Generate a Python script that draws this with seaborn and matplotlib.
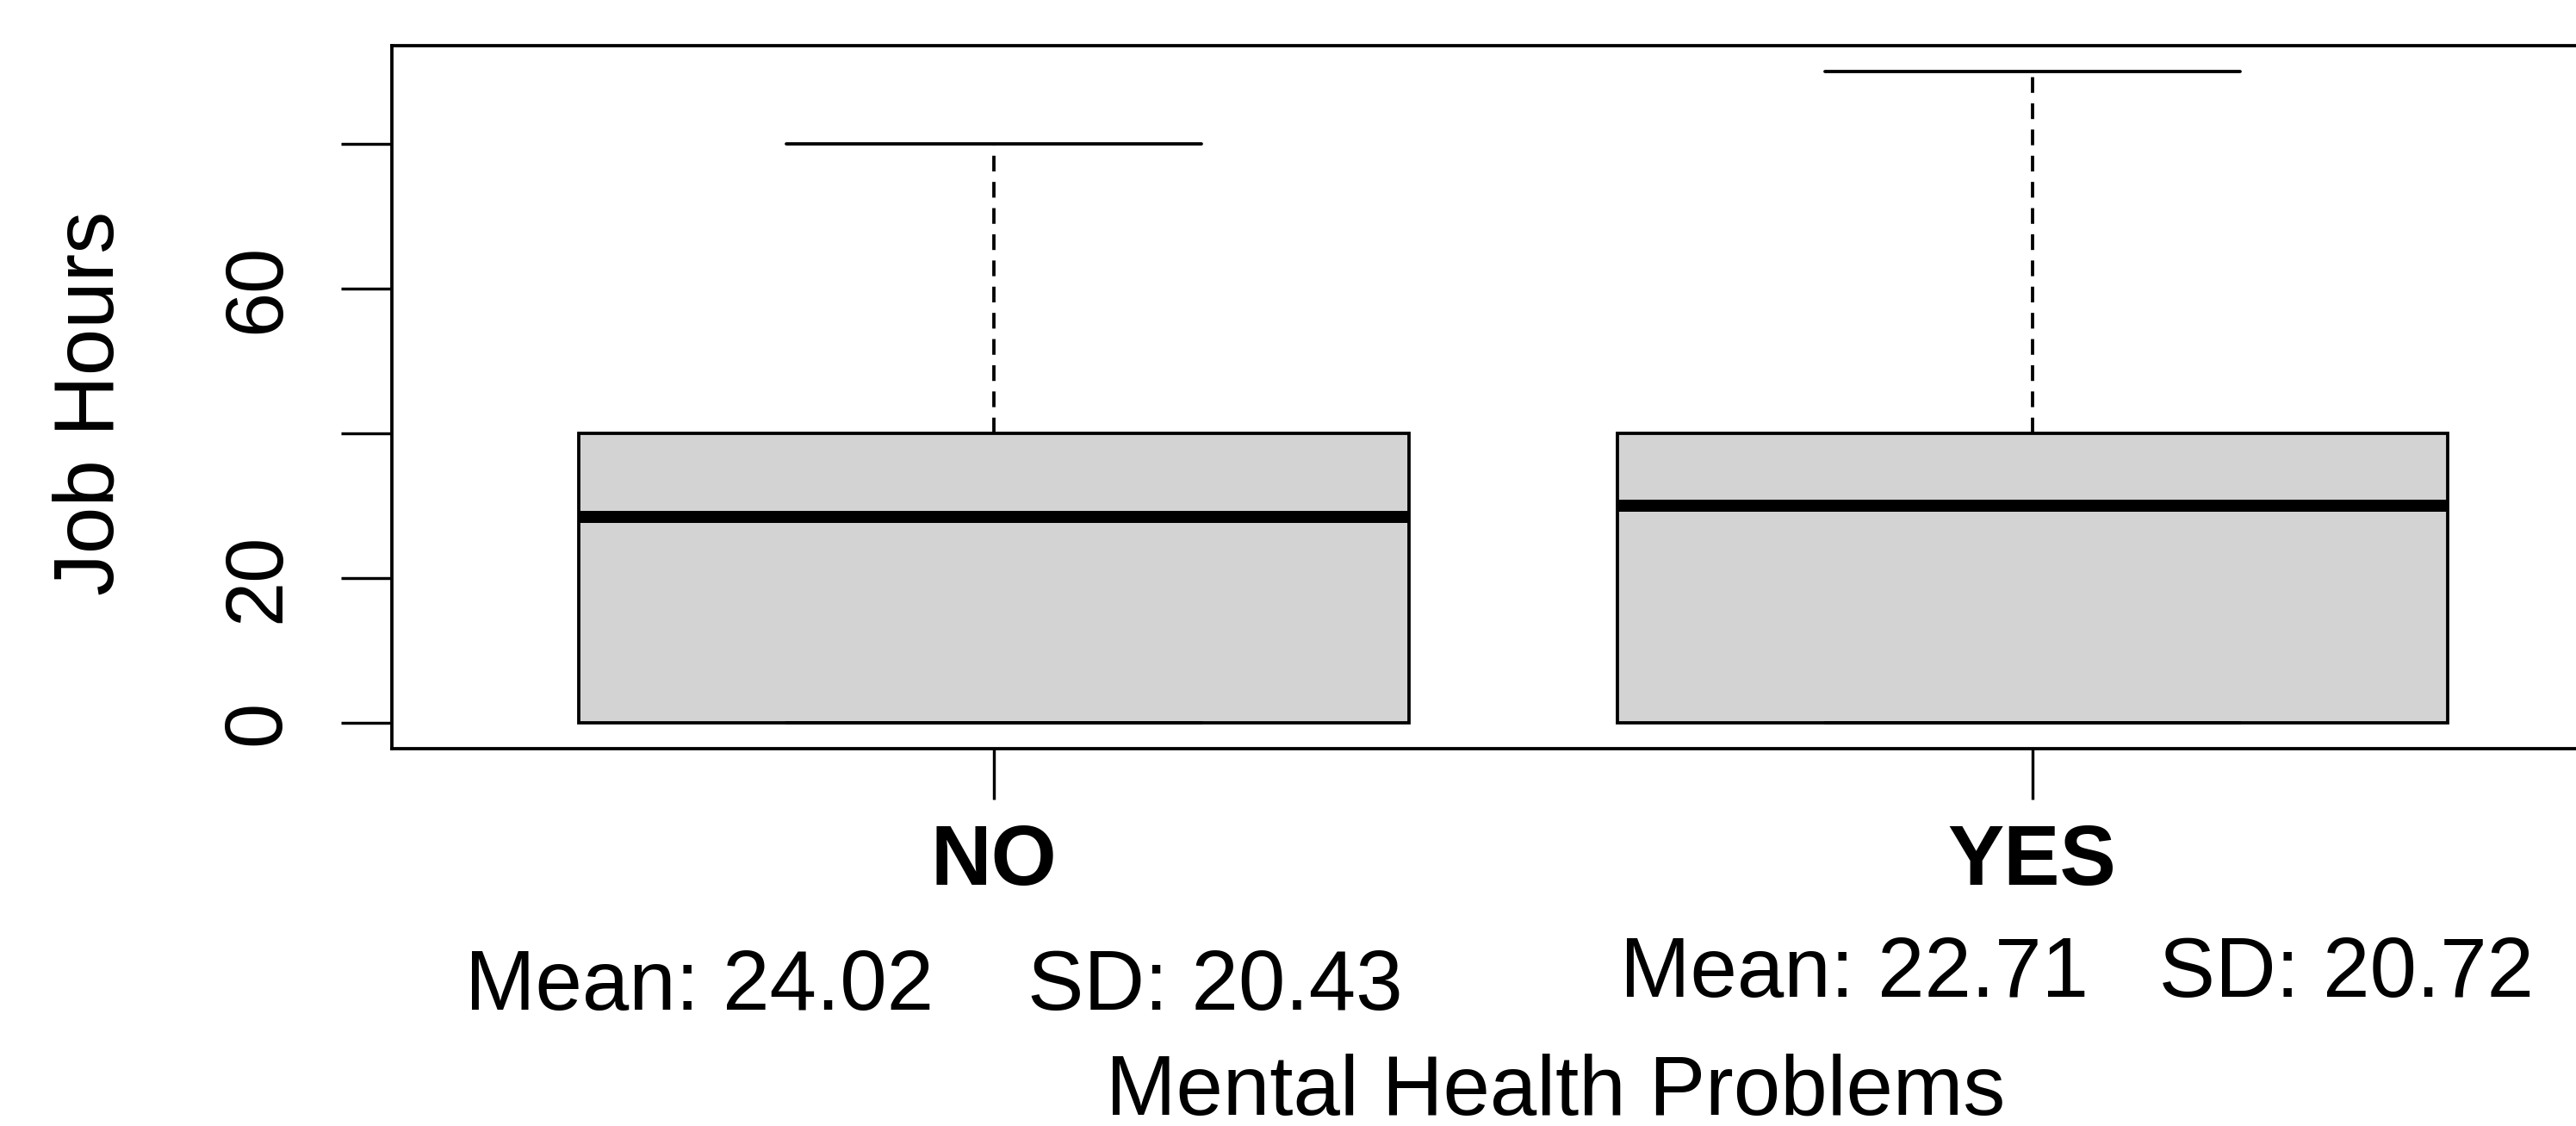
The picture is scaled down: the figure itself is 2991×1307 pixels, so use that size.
import matplotlib
matplotlib.use("Agg")
import matplotlib.pyplot as plt
import pandas as pd
import seaborn as sns

# ---------------- data ----------------
categories = ["NO", "YES"]
lower_whisker = [0, 0]
q1_values = [0, 0]
median_values = [28.5, 30.0]
q3_values = [40, 40]
upper_whisker = [80, 90]
mean_values = [24.02, 22.71]
sd_values = [20.43, 20.72]
y_ticks = [0, 20, 40, 60, 80]
y_tick_labels = ["0", "20", "", "60", ""]
x_label = "Mental Health Problems"
y_label = "Job Hours"

# ---------------- style ----------------
sns.set_theme(style="white")
plt.rcParams['font.family'] = ['Liberation Sans', 'DejaVu Sans']

W, H = 2991, 1307
DPI = 100


def pt(p):
    return p * 72.0 / DPI


fig = plt.figure(figsize=(W / DPI, H / DPI), dpi=DPI)
fig.patch.set_facecolor("white")

ax_l, ax_r, ax_t, ax_b = 455, 3059, 53.1, 869.3
ax = fig.add_axes([ax_l / W, 1 - ax_b / H, (ax_r - ax_l) / W, (ax_b - ax_t) / H])
ax.set_facecolor("white")

rows = []
for c, lo, a, m, b, hi in zip(categories, lower_whisker, q1_values,
                              median_values, q3_values, upper_whisker):
    for v in (lo, a, m, b, hi):
        rows.append({"group": c, "hours": v})
df = pd.DataFrame(rows)

lw = pt(3.8)
sns.boxplot(data=df, x="group", y="hours", order=categories,
            color="#D3D3D3", saturation=1, width=0.8,
            linecolor="black", linewidth=lw, showfliers=False, whis=1.5,
            whiskerprops=dict(linestyle=(0, (4.8, 3.2))),
            medianprops=dict(linewidth=pt(14), solid_capstyle="butt"),
            ax=ax)

ax.set_xlim(-0.58, 1.58)
ax.set_ylim(-3.6, 93.6)

ax.set_yticks(y_ticks)
ax.set_yticklabels(y_tick_labels)
ax.tick_params(axis="y", left=True, direction="out", length=pt(59), width=pt(3.4),
               pad=pt(51.3), labelsize=67.5, labelrotation=90,
               color="black", labelcolor="black")
for t in ax.get_yticklabels():
    t.set_va("center")

ax.set_xticks([0, 1])
ax.set_xticklabels(categories, fontweight="bold")
ax.tick_params(axis="x", bottom=True, direction="out", length=pt(59), width=pt(3.4),
               pad=pt(27.4), labelsize=70.5, color="black", labelcolor="black")

for sp in ax.spines.values():
    sp.set_visible(True)
    sp.set_linewidth(lw)
    sp.set_color("black")

ax.set_xlabel(x_label, fontsize=70.5, color="black")
ax.xaxis.set_label_coords((1806 - ax_l) / (ax_r - ax_l), (ax_b - 1223) / (ax_b - ax_t))
ax.set_ylabel(y_label, fontsize=70.5, color="black")
ax.yaxis.set_label_coords((151.5 - ax_l) / (ax_r - ax_l), (ax_b - 468) / (ax_b - ax_t))

# summary statistics under each category
stat_gaps = ["    ", "   "]
stat_pos = [(540.5, 1171.7), (1881.5, 1156.7)]
for m, s, gap, (x, y) in zip(mean_values, sd_values, stat_gaps, stat_pos):
    fig.text(x / W, 1 - y / H, f"Mean: {m:.2f}{gap}SD: {s:.2f}",
             ha="left", va="baseline", fontsize=70.5, color="black")

fig.savefig("out.png", dpi=DPI, facecolor="white")
